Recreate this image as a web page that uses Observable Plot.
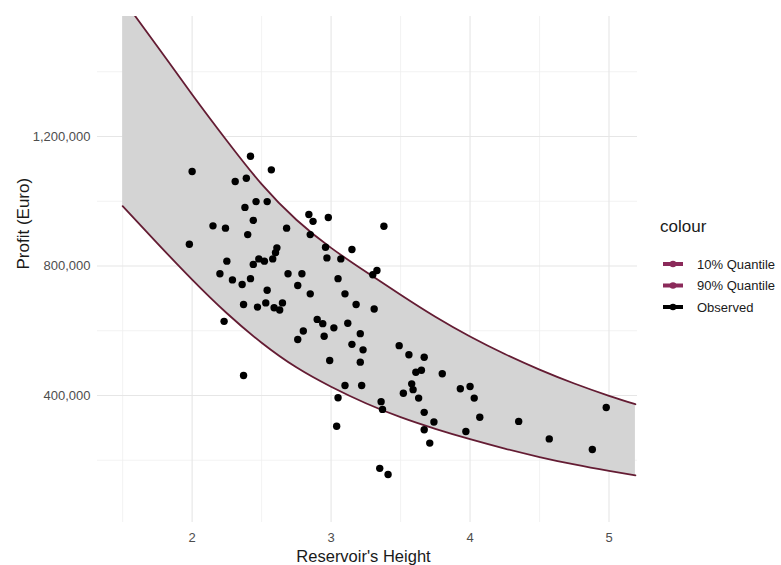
<!DOCTYPE html>
<html><head><meta charset="utf-8">
<script src="https://cdn.jsdelivr.net/npm/d3@7"></script>
<script src="https://cdn.jsdelivr.net/npm/@observablehq/plot@0.6"></script>
<style>
body{margin:0;background:#fff;font-family:"Liberation Sans",Arial,sans-serif;}
#wrap{position:relative;width:781px;height:565px;overflow:hidden;}
#legend{position:absolute;left:640px;top:200px;}
</style></head><body><div id="wrap"></div>
<script>
// Observed points
const heights = [2.42,2.00,2.57,2.31,2.39,2.46,2.54,2.38,2.84,2.87,2.44,2.15,2.24,2.68,2.40,2.85,1.98,2.61,2.25,2.44,2.48,2.52,2.58,2.60,2.20,2.69,2.79,2.29,2.42,2.36,2.76,2.54,2.85,2.37,2.47,2.53,2.59,2.63,2.65,2.90,2.23,2.80,2.76,2.37,
  2.98,3.38,2.96,3.15,2.97,3.07,3.30,3.33,3.05,3.10,3.18,3.31,2.94,3.12,3.02,2.95,3.21,3.15,3.23,3.49,3.56,3.67,2.99,3.21,3.61,3.65,3.80,3.10,3.22,3.58,3.59,3.52,3.63,3.05,3.36,3.37,3.67,3.74,3.67,3.04,3.71,3.35,3.41,
  3.93,4.00,4.03,4.07,3.97,4.35,4.57,4.88,4.98];
const profits = [1139000,1092000,1097000,1061000,1071000,999000,999000,981000,959000,938000,941000,924000,917000,917000,897000,897000,867000,856000,815000,805000,822000,815000,822000,841000,776000,776000,776000,757000,761000,743000,740000,725000,714000,681000,673000,686000,671000,664000,686000,635000,629000,599000,573000,462000,
  950000,923000,858000,851000,825000,822000,773000,786000,761000,714000,681000,667000,622000,623000,609000,583000,591000,558000,541000,554000,526000,518000,508000,503000,472000,478000,467000,431000,431000,436000,418000,407000,392000,393000,381000,357000,348000,318000,294000,305000,253000,175000,156000,
  421000,428000,392000,333000,289000,320000,266000,233000,363000];
// Quantile curves
const bandX = [1.5,1.75,2,2.25,2.5,2.75,3,3.25,3.5,3.75,4,4.25,4.5,4.75,5,5.19];
const q90 = [1625000,1478000,1330000,1187000,1053000,943000,856000,782000,711000,643000,582000,528000,480000,437000,399000,373000];
const q10 = [985000,870000,758000,654000,563000,487000,427000,376000,333000,297000,265000,236000,210000,187000,167000,153000];
// Ticks
const xTicks = [2,3,4,5];
const xMinor = [1.5,2.5,3.5,4.5];
const yTicks = [400000,800000,1200000];
const yMinor = [200000,600000,1000000,1400000];
const legendTitle = "colour";
const legendLabels = ["10% Quantile","90% Quantile","Observed"];
const legendColors = ["#8b2a5a","#8b2a5a","#000000"];
const xTitle = "Reservoir's Height";
const yTitle = "Profit (Euro)";

const obs = heights.map((h,i)=>({h, p: profits[i]}));
const band = bandX.map((x,i)=>({x, lo: q10[i], hi: q90[i]}));
const lineColor = "#641c33";
const font = '"Liberation Sans",Arial,sans-serif';

const chart = Plot.plot({
  width: 781, height: 565,
  marginLeft: 97, marginRight: 144, marginTop: 16, marginBottom: 43,
  style: {fontFamily: font, fontSize: "13px", color: "#4d4d4d", background: "white"},
  x: {domain: [1.319, 5.205], ticks: xTicks, tickSize: 0, tickPadding: 10, tickFormat: d3.format("d"), label: null},
  y: {domain: [7700, 1570700], ticks: yTicks, tickSize: 0, tickPadding: 7, tickFormat: d3.format(","), label: null},
  marks: [
    Plot.ruleX(xMinor, {stroke: "#efefef", strokeWidth: 0.8}),
    Plot.ruleY(yMinor, {stroke: "#efefef", strokeWidth: 0.8}),
    Plot.ruleX(xTicks, {stroke: "#e6e6e6", strokeWidth: 1.1}),
    Plot.ruleY(yTicks, {stroke: "#e6e6e6", strokeWidth: 1.1}),
    Plot.areaY(band, {x: "x", y1: "lo", y2: "hi", fill: "#d4d4d4", curve: "natural", clip: true}),
    Plot.line(band, {x: "x", y: "lo", stroke: lineColor, strokeWidth: 1.8, curve: "natural", clip: true}),
    Plot.line(band, {x: "x", y: "hi", stroke: lineColor, strokeWidth: 1.8, curve: "natural", clip: true}),
    Plot.dot(obs, {x: "h", y: "p", r: 3.7, fill: "black", stroke: "none"}),
    Plot.text([yTitle], {text: d => d, frameAnchor: "left", dx: -74, rotate: -90, fontSize: 17, fill: "#1a1a1a", lineAnchor: "middle"}),
    Plot.text([xTitle], {text: d => d, frameAnchor: "bottom", dx: -4, dy: 34, fontSize: 16.5, fill: "#1a1a1a", lineAnchor: "middle"})
  ]
});
document.getElementById("wrap").appendChild(chart);

// Legend
const leg = d3.select("#wrap").append("svg").attr("id","legend").attr("width",141).attr("height",130)
  .style("font-family", font);
leg.append("text").attr("x",20).attr("y",32).attr("font-size",17).attr("fill","#1a1a1a").text(legendTitle);
legendLabels.forEach((lab,i)=>{
  const cy = 64 + i*21.5;
  leg.append("line").attr("x1",23).attr("x2",43).attr("y1",cy).attr("y2",cy)
    .attr("stroke",legendColors[i]).attr("stroke-width",4);
  leg.append("circle").attr("cx",33).attr("cy",cy).attr("r",3.3).attr("fill",legendColors[i]);
  leg.append("text").attr("x",57).attr("y",cy).attr("dy","0.35em").attr("font-size",13).attr("fill","#1a1a1a").text(lab);
});
</script>
</body></html>
